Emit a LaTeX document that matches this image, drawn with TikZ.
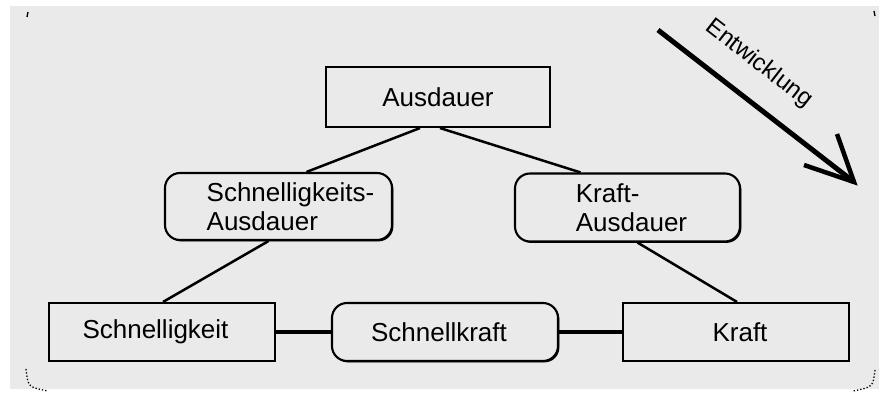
\documentclass[tikz,border=0pt]{standalone}
\usepackage{fontspec}
\setmainfont{Liberation Sans}
\usetikzlibrary{shadows}
\definecolor{panel}{RGB}{234,234,234}
\begin{document}
\begin{tikzpicture}[x=1pt,y=-1pt,
  box/.style={draw=black, line width=2.1pt, fill=panel, inner sep=0pt,
    font=\fontsize{26}{29}\selectfont,
    drop shadow={shadow xshift=1.4pt, shadow yshift=-1.4pt, fill=black, opacity=1}},
  rbox/.style={box, rounded corners=15pt},
  link/.style={line width=2.5pt},
  hlink/.style={line width=4pt},
  dots/.style={dotted, line width=1.3pt}]
\fill[white] (0,0) rectangle (879,399);
\fill[panel] (10,6) rectangle (879,389);
\useasboundingbox (0,0) rectangle (879,399);

\node[box, minimum width=224pt, minimum height=60pt] (aus) at (438,97) {Ausdauer};
\node[rbox, minimum width=227pt, minimum height=67pt, align=left] (sa) at (278.5,206.5)
  {\hspace*{24pt}Schnelligkeits-\\\hspace*{24pt}Ausdauer};
\node[rbox, minimum width=225pt, minimum height=68pt, align=left] (ka) at (627.5,207.5)
  {\hspace*{8pt}Kraft-\\\hspace*{8pt}Ausdauer};
\node[box, minimum width=226pt, minimum height=58pt] (s) at (162,332) {Schnelligkeit\hspace*{13pt}};
\node[rbox, minimum width=226pt, minimum height=58pt] (sk) at (445,332) {Schnellkraft\hspace*{12pt}};
\node[box, minimum width=226pt, minimum height=58pt] (k) at (736,332) {\hspace*{8pt}Kraft};

\draw[link] ([xshift=-18pt]aus.south) -- ([xshift=28pt]sa.north);
\draw[link] ([xshift=2pt]aus.south) -- ([xshift=-47pt]ka.north);
\draw[link] ([xshift=-10pt]sa.south) -- ([xshift=1pt]s.north);
\draw[link] ([xshift=10pt]ka.south) -- ([xshift=1pt]k.north);
\draw[hlink] (s.east) -- (sk.west);
\draw[hlink] (sk.east) -- (k.west);

\coordinate (ast) at (658,30);
\coordinate (atip) at (854,182);
\coordinate (b1) at (837,134);
\coordinate (b2) at (804,165);
\draw[line width=5pt] (ast) -- (atip);
\draw[line width=4.5pt, miter limit=10] (b1) -- (atip) -- (b2);
\node[font=\fontsize{24}{26}\selectfont, rotate=-37.8] (ent) at (759,64) {Entwicklung};

\draw[dots] (26,369) .. controls (28,387) .. (48,391);
\draw[dots] (875,370) .. controls (873,387) .. (853,391);
\draw[line width=1.3pt] (28,12) -- (27,17);
\draw[line width=1.3pt] (874,11) -- (875,16);
\end{tikzpicture}
\end{document}
